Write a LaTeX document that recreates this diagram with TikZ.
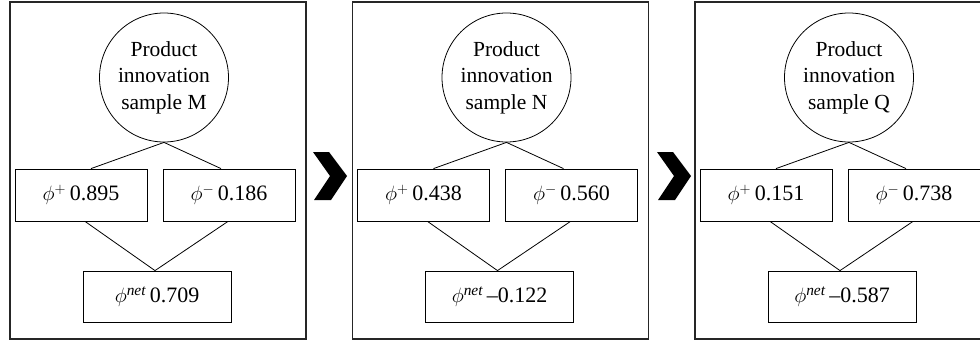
\documentclass[tikz,border=0pt]{standalone}
\usepackage{fontspec}
\setmainfont{Liberation Serif}
\usetikzlibrary{calc}
\tikzset{
  panel/.style={draw=black!85, line width=1.1pt},
  bubble/.style={draw, circle, line width=0.8pt, minimum size=129pt, inner sep=0pt, align=center,
    font=\fontsize{21.5}{26.5}\selectfont},
  valbox/.style={draw, rectangle, line width=0.8pt, minimum width=132pt, minimum height=52pt, inner sep=0pt,
    font=\fontsize{22}{25}\selectfont},
  netbox/.style={valbox, minimum width=148pt, minimum height=51pt},
  link/.style={line width=0.8pt},
  chev/.style={fill=black, draw=none}
}
\begin{document}
\begin{tikzpicture}[x=1pt,y=-1pt]
\useasboundingbox (0,0) rectangle (980,345);
\clip (0,0) rectangle (980,345);
\foreach \i/\L/\s/\p/\m/\n in {1/10/M/0.895/0.186/0.709, 2/352.5/N/0.438/0.560/{–0.122}, 3/695/Q/0.151/0.738/{–0.587}}{
  \begin{scope}[xshift=\L pt]
    \draw[panel] (0,2) rectangle (296,339);
    \node[bubble] (c\i) at (154,77.5) {Product\\innovation\\sample \s};
    \node[valbox] (bp\i) at (71,195) {$\phi^{+}$\,\p};
    \node[valbox] (bm\i) at (219,195) {$\phi^{-}$\,\m};
    \node[netbox] (nt\i) at (147,296.5) {$\phi^{\mathit{net}}$\,\n};
    \draw[link] ($(bp\i.north)+(10,0)$) -- (c\i.south) -- ($(bm\i.north)+(-8,0)$);
    \draw[link] ($(bp\i.south)+(4,0)$) -- ($(nt\i.north)+(-2,0)$) -- ($(bm\i.south)+(-1,0)$);
  \end{scope}
}
\foreach \j/\X in {1/313, 2/657}{
  \fill[chev] (\X,152) -- (\X+16,152) -- (\X+34,176) -- (\X+18,200) -- (\X+1,200) -- (\X+17,176) -- cycle;
}
\end{tikzpicture}
\end{document}
